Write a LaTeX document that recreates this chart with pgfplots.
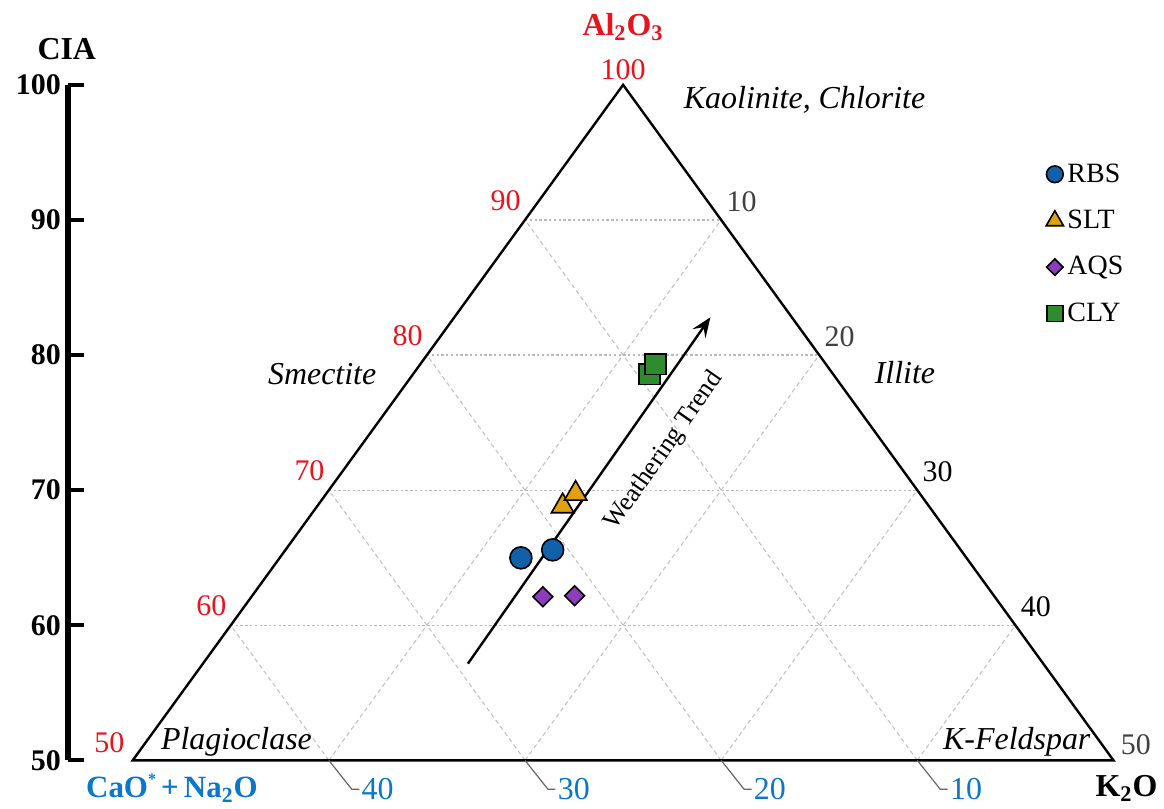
\documentclass[border=0pt]{standalone}
\usepackage{fontspec}
\setmainfont{Liberation Serif}
\usepackage{pgfplots}
\pgfplotsset{compat=1.18}
\usetikzlibrary{arrows.meta}
\definecolor{rbs}{HTML}{1060AA}
\definecolor{slt}{HTML}{E0A010}
\definecolor{aqs}{HTML}{8E3BBE}
\definecolor{cly}{HTML}{2E8B2E}
\definecolor{ared}{HTML}{E8131B}
\definecolor{cnblue}{HTML}{0A78C8}
\definecolor{kgray}{HTML}{404040}
\newcommand{\fs}[1]{\fontsize{#1}{#1}\selectfont}
\begin{document}
\begin{tikzpicture}[
  gridh/.style={gray!55, line width=0.6pt, dash pattern=on 1.2pt off 1.2pt},
  gridd/.style={gray!50, line width=0.5pt, dash pattern=on 2.2pt off 1.6pt},
  btick/.style={gray!80!black, line width=0.6pt},
]
\begin{axis}[
  scale only axis, width=546pt, height=338.5pt,
  xmin=21.69, xmax=77.24, ymin=50, ymax=100,
  axis x line=none, axis y line*=left,
  clip=false,
  ytick={50,60,70,80,90,100},
  tick align=inside, major tick length=8pt,
  y axis line style={line width=3pt},
  ytick style={line width=2pt, black},
  /pgf/number format/assume math mode=true,
  yticklabel style={font=\bfseries\fs{15}, black},
  legend style={at={(axis cs:71.55,94.5)}, anchor=north west, draw=none, fill=none,
    font=\fs{14}, row sep=8.5pt, inner sep=0pt,
    /tikz/every even column/.append style={column sep=0pt}},
  legend cell align=left,
]
% bounding box of the whole picture
\path (axis cs:18.235,46.75) rectangle (axis cs:77.44,106.28);

% horizontal grid (constant Al2O3)
\draw[gridh] (axis cs:30,60) -- (axis cs:70,60);
\draw[gridh] (axis cs:35,70) -- (axis cs:65,70);
\draw[gridh] (axis cs:40,80) -- (axis cs:60,80);
\draw[gridh] (axis cs:45,90) -- (axis cs:55,90);
% constant K2O
\draw[gridd] (axis cs:35,50) -- (axis cs:55,90);
\draw[gridd] (axis cs:45,50) -- (axis cs:60,80);
\draw[gridd] (axis cs:55,50) -- (axis cs:65,70);
\draw[gridd] (axis cs:65,50) -- (axis cs:70,60);
% constant CN
\draw[gridd] (axis cs:65,50) -- (axis cs:45,90);
\draw[gridd] (axis cs:55,50) -- (axis cs:40,80);
\draw[gridd] (axis cs:45,50) -- (axis cs:35,70);
\draw[gridd] (axis cs:35,50) -- (axis cs:30,60);

% triangle
\draw[black, line width=1.2pt, line join=miter] (axis cs:25,50) -- (axis cs:50,100) -- (axis cs:75,50) -- cycle;

% bottom ticks (CaO*+Na2O)
\draw[btick] (axis cs:35,50) -- (axis cs:36.17,47.86) -- (axis cs:36.55,47.86);
\draw[btick] (axis cs:45,50) -- (axis cs:46.17,47.86) -- (axis cs:46.55,47.86);
\draw[btick] (axis cs:55,50) -- (axis cs:56.17,47.86) -- (axis cs:56.55,47.86);
\draw[btick] (axis cs:65,50) -- (axis cs:66.17,47.86) -- (axis cs:66.55,47.86);
\node[anchor=west, cnblue, inner sep=1pt, font=\fs{16}] at (axis cs:36.55,47.86) {40};
\node[anchor=west, cnblue, inner sep=1pt, font=\fs{16}] at (axis cs:46.55,47.86) {30};
\node[anchor=west, cnblue, inner sep=1pt, font=\fs{16}] at (axis cs:56.55,47.86) {20};
\node[anchor=west, cnblue, inner sep=1pt, font=\fs{16}] at (axis cs:66.55,47.86) {10};

% right labels (K2O)
\node[anchor=south west, kgray, inner sep=0pt, xshift=2.5pt, yshift=4pt, font=\fs{15}] at (axis cs:55,90) {10};
\node[anchor=south west, kgray, inner sep=0pt, xshift=2.5pt, yshift=4pt, font=\fs{15}] at (axis cs:60,80) {20};
\node[anchor=south west, black, inner sep=0pt, xshift=2.5pt, yshift=4pt, font=\fs{15}] at (axis cs:65,70) {30};
\node[anchor=south west, black, inner sep=0pt, xshift=2.5pt, yshift=4pt, font=\fs{15}] at (axis cs:70,60) {40};
\node[anchor=south west, kgray, inner sep=0pt, xshift=3.5pt, yshift=2.5pt, font=\fs{15}] at (axis cs:75,50) {50};

% left labels (Al2O3)
\node[anchor=south, ared, inner sep=0pt, yshift=2.5pt, font=\fs{15}] at (axis cs:50,100) {100};
\node[anchor=south east, ared, inner sep=0pt, xshift=-2pt, yshift=4.5pt, font=\fs{15}] at (axis cs:45,90) {90};
\node[anchor=south east, ared, inner sep=0pt, xshift=-2pt, yshift=4.5pt, font=\fs{15}] at (axis cs:40,80) {80};
\node[anchor=south east, ared, inner sep=0pt, xshift=-2pt, yshift=4.5pt, font=\fs{15}] at (axis cs:35,70) {70};
\node[anchor=south east, ared, inner sep=0pt, xshift=-2pt, yshift=4.5pt, font=\fs{15}] at (axis cs:30,60) {60};
\node[anchor=south east, ared, inner sep=0pt, xshift=-4pt, yshift=3.5pt, font=\fs{15}] at (axis cs:25,50) {50};

% mineral labels
\node[anchor=west, font=\itshape\fs{16}, inner sep=0pt] at (axis cs:53.08,98.89) {Kaolinite, Chlorite};
\node[font=\itshape\fs{16}, inner sep=0pt] at (axis cs:34.66,78.58) {Smectite};
\node[font=\itshape\fs{16}, inner sep=0pt] at (axis cs:64.37,78.73) {Illite};
\node[font=\itshape\fs{16}, inner sep=0pt] at (axis cs:30.29,51.40) {Plagioclase};
\node[font=\itshape\fs{16}, inner sep=0pt] at (axis cs:70.07,51.40) {K-Feldspar};

% titles
\node[ared, font=\bfseries\fs{16}] at (axis cs:50,104.28) {Al\textsubscript{2}O\textsubscript{3}};
\node[black, font=\bfseries\fs{16}] at (axis cs:21.64,102.66) {CIA};
\node[black, font=\bfseries\fs{16}] at (axis cs:75.66,47.93) {K\textsubscript{2}O};
\node[cnblue, font=\bfseries\fs{15.5}] at (axis cs:27.0,47.93) {CaO\raisebox{0.9ex}{\fs{8}*}\,+\,Na\textsubscript{2}O};

% weathering trend arrow
\addplot[black, line width=1.2pt, -{Stealth[length=10pt, width=8pt, inset=4pt]}, forget plot]
  coordinates {(42.09,57.16) (54.45,82.79)};
\node[rotate=55, font=\fs{13}, inner sep=0pt] at (axis cs:52.1,72.9) {Weathering Trend};

% data
\addplot[only marks, mark=*, mark size=5.5pt, mark options={fill=rbs, draw=black, line width=0.8pt},
  legend image post style={mark size=4.2pt}]
  coordinates {(44.79,64.99) (46.41,65.58)};
\addlegendentry{RBS}
\addplot[only marks, mark=triangle*, mark size=6.5pt, mark options={fill=slt, draw=black, line width=0.8pt},
  legend image post style={mark size=5pt}]
  coordinates {(46.92,68.81) (47.58,69.74)};
\addlegendentry{SLT}
\addplot[only marks, mark=square*, mark size=3.5pt, mark options={fill=aqs, draw=black, line width=0.8pt, rotate=45},
  legend image post style={mark size=2.9pt}]
  coordinates {(45.91,62.11) (47.53,62.19)};
\addlegendentry{AQS}
\addplot[only marks, mark=square*, mark size=5.2pt, mark options={fill=cly, draw=black, line width=0.8pt},
  legend image post style={mark size=4pt}]
  coordinates {(51.35,78.58) (51.65,79.32)};
\addlegendentry{CLY}
\end{axis}
\end{tikzpicture}
\end{document}
